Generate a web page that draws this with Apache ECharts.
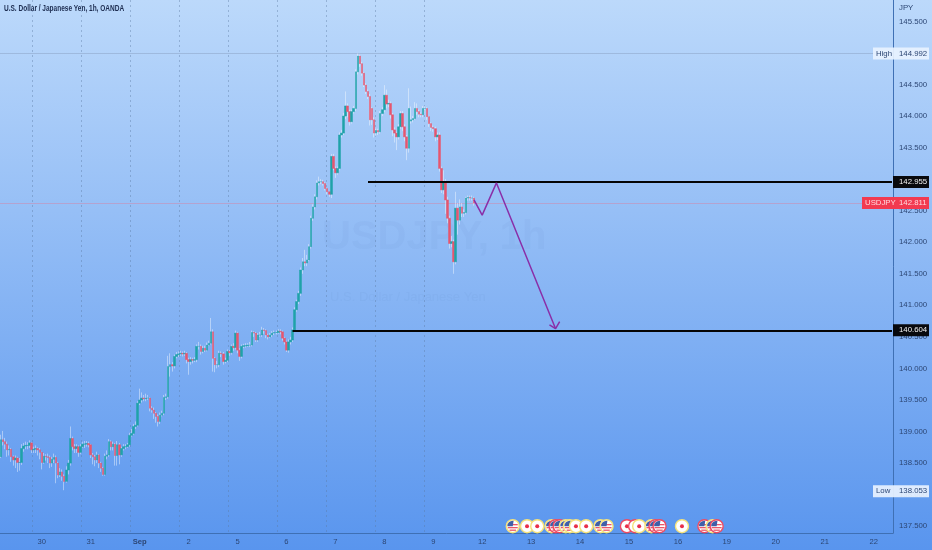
<!DOCTYPE html>
<html><head><meta charset="utf-8">
<style>html,body{margin:0;padding:0;background:#8ab6f5}#c{width:932px;height:550px}</style>
<script src="https://cdn.jsdelivr.net/npm/echarts@6/dist/echarts.min.js"></script>
</head><body><div id="c"></div>
<script>
const opens=[138.60,138.87,138.84,138.80,138.71,138.72,138.60,138.55,138.58,138.51,
138.51,138.73,138.77,138.78,138.78,138.82,138.71,138.72,138.73,138.71,
138.67,138.51,138.61,138.60,138.59,138.50,138.56,138.59,138.50,138.31,
138.36,138.29,138.21,138.39,138.50,138.89,138.76,138.73,138.76,138.67,
138.76,138.80,138.80,138.81,138.79,138.63,138.60,138.55,138.63,138.50,
138.42,138.32,138.61,138.63,138.84,138.76,138.80,138.62,138.79,138.63,
138.73,138.76,138.76,138.79,138.94,138.97,139.08,139.10,139.45,139.50,
139.53,139.52,139.53,139.53,139.37,139.34,139.29,139.24,139.16,139.26,
139.29,139.54,139.55,140.03,140.06,140.04,140.19,140.22,140.23,140.24,
140.23,140.24,140.14,140.11,140.14,140.13,140.14,140.35,140.35,140.27,
140.32,140.29,140.37,140.40,140.58,140.16,140.06,140.06,140.24,140.23,
140.11,140.13,140.27,140.25,140.35,140.33,140.56,140.29,140.19,140.35,
140.36,140.36,140.37,140.37,140.57,140.56,140.45,140.53,140.53,140.61,
140.60,140.53,140.50,140.53,140.56,140.57,140.57,140.59,140.58,140.48,
140.42,140.29,140.42,140.45,140.61,140.93,141.06,141.19,141.56,141.69,
141.67,141.72,141.93,142.38,142.56,142.72,142.94,142.96,142.96,142.93,
142.85,142.80,142.76,143.36,143.17,143.10,143.17,143.70,143.73,144.00,
144.16,144.07,143.91,144.07,144.12,144.70,144.95,144.83,144.68,144.49,
144.39,144.31,144.12,143.94,143.73,143.77,143.75,144.04,144.10,144.33,
144.19,144.20,144.02,143.78,143.73,143.67,143.83,144.04,143.83,143.67,
143.49,143.92,143.94,143.96,144.12,144.07,144.03,144.02,144.12,144.12,
143.99,143.88,143.82,143.80,143.67,143.70,143.17,142.83,142.96,142.67,
142.38,141.98,142.01,141.69,142.54,142.35,142.56,142.46,142.47,142.70,
142.71,142.70,142.70];
const closes=[138.87,138.84,138.80,138.71,138.72,138.60,138.55,138.58,138.51,138.51,
138.73,138.77,138.78,138.78,138.82,138.71,138.72,138.73,138.71,138.67,
138.51,138.61,138.60,138.59,138.50,138.56,138.59,138.50,138.31,138.36,
138.29,138.21,138.39,138.50,138.89,138.76,138.73,138.76,138.67,138.76,
138.80,138.80,138.81,138.79,138.63,138.60,138.55,138.63,138.50,138.42,
138.32,138.61,138.63,138.84,138.76,138.80,138.62,138.79,138.63,138.73,
138.76,138.76,138.79,138.94,138.97,139.08,139.10,139.45,139.50,139.53,
139.52,139.53,139.53,139.37,139.34,139.29,139.24,139.16,139.26,139.29,
139.54,139.55,140.03,140.06,140.04,140.19,140.22,140.23,140.24,140.23,
140.24,140.14,140.11,140.14,140.13,140.14,140.35,140.35,140.27,140.32,
140.29,140.37,140.40,140.58,140.16,140.06,140.06,140.24,140.23,140.11,
140.13,140.27,140.25,140.35,140.33,140.56,140.29,140.19,140.35,140.36,
140.36,140.37,140.37,140.57,140.56,140.45,140.53,140.53,140.61,140.60,
140.53,140.50,140.53,140.56,140.57,140.57,140.59,140.58,140.48,140.42,
140.29,140.42,140.45,140.61,140.93,141.06,141.19,141.56,141.69,141.67,
141.72,141.93,142.38,142.56,142.72,142.94,142.96,142.96,142.93,142.85,
142.80,142.76,143.36,143.17,143.10,143.17,143.70,143.73,144.00,144.16,
144.07,143.91,144.07,144.12,144.70,144.95,144.83,144.68,144.49,144.39,
144.31,143.94,143.94,143.73,143.77,143.75,144.04,144.10,144.33,144.19,
144.20,144.02,143.78,143.73,143.67,143.83,144.04,143.83,143.67,143.49,
144.12,143.94,143.96,144.12,144.07,144.03,144.02,144.12,144.12,143.99,
143.88,143.82,143.80,143.67,143.70,143.17,142.83,142.96,142.67,142.38,
141.98,142.01,141.69,142.54,142.35,142.56,142.46,142.47,142.70,142.71,
142.70,142.70,142.62];
const highs=[138.95,139.01,138.90,138.84,138.78,138.74,138.62,138.62,138.60,138.58,
138.80,138.82,138.84,138.83,138.86,138.83,138.76,138.78,138.75,138.74,
138.68,138.66,138.64,138.65,138.62,138.60,138.65,138.62,138.52,138.42,
138.40,138.32,138.45,138.55,139.08,138.92,138.80,138.80,138.78,138.80,
138.84,138.85,138.85,138.84,138.80,138.66,138.63,138.68,138.64,138.52,
138.44,138.65,138.70,138.88,138.86,138.84,138.82,138.85,138.82,138.76,
138.80,138.80,138.82,138.98,139.04,139.12,139.16,139.48,139.68,139.62,
139.58,139.60,139.58,139.54,139.40,139.38,139.31,139.27,139.30,139.33,
139.58,139.60,140.20,140.24,140.10,140.22,140.26,140.27,140.28,140.27,
140.28,140.26,140.17,140.18,140.17,140.18,140.38,140.42,140.38,140.36,
140.36,140.41,140.44,140.80,140.62,140.18,140.12,140.28,140.27,140.26,
140.17,140.30,140.29,140.38,140.40,140.60,140.58,140.32,140.38,140.39,
140.40,140.40,140.42,140.60,140.59,140.58,140.56,140.58,140.66,140.64,
140.62,140.55,140.56,140.59,140.60,140.60,140.62,140.62,140.60,140.50,
140.44,140.46,140.50,140.65,140.97,141.09,141.23,141.60,141.75,141.88,
141.80,141.97,142.42,142.60,142.76,142.98,143.04,143.00,142.99,142.95,
142.86,142.80,143.40,143.40,143.20,143.20,143.74,143.78,144.05,144.39,
144.20,144.10,144.10,144.16,144.74,144.99,144.97,144.86,144.70,144.52,
144.42,144.35,144.14,143.98,143.80,143.80,144.08,144.14,144.49,144.42,
144.26,144.23,144.05,143.82,143.75,143.87,144.08,144.08,143.87,143.70,
144.44,144.15,144.00,144.22,144.20,144.10,144.06,144.16,144.16,144.14,
144.00,143.90,143.85,143.83,143.74,143.74,143.20,143.14,143.00,142.72,
142.42,142.10,142.04,142.80,142.62,142.68,142.62,142.52,142.72,142.74,
142.74,142.74,142.72];
const lows=[138.58,138.78,138.72,138.60,138.62,138.52,138.46,138.42,138.36,138.38,
138.47,138.68,138.72,138.72,138.74,138.66,138.66,138.66,138.62,138.56,
138.40,138.49,138.54,138.50,138.42,138.44,138.50,138.18,138.26,138.28,
138.22,138.07,138.19,138.32,138.46,138.70,138.66,138.66,138.60,138.64,
138.74,138.74,138.76,138.75,138.58,138.48,138.45,138.50,138.42,138.36,
138.30,138.30,138.56,138.60,138.70,138.70,138.46,138.46,138.48,138.60,
138.70,138.72,138.74,138.76,138.92,138.95,139.04,139.08,139.42,139.46,
139.48,139.48,139.50,139.32,139.30,139.20,139.14,139.08,139.12,139.24,
139.26,139.50,139.52,139.87,139.95,140.00,140.16,140.18,140.20,140.19,
140.20,140.08,139.90,140.06,140.08,140.10,140.10,140.30,140.22,140.24,
140.26,140.27,140.36,140.38,139.95,139.94,140.00,140.02,140.18,140.06,
140.08,140.10,140.20,140.22,140.28,140.30,140.24,140.12,140.16,140.32,
140.33,140.34,140.34,140.35,140.50,140.42,140.42,140.50,140.50,140.55,
140.48,140.46,140.48,140.50,140.53,140.54,140.55,140.54,140.44,140.38,
140.26,140.25,140.38,140.42,140.58,140.90,141.02,141.15,141.50,141.62,
141.62,141.70,141.90,142.34,142.52,142.68,142.90,142.92,142.90,142.82,
142.76,142.72,142.70,143.14,143.02,143.07,143.14,143.66,143.70,143.95,
143.98,143.85,143.88,144.04,144.08,144.66,144.78,144.64,144.46,144.35,
144.27,143.85,143.86,143.66,143.68,143.70,143.72,144.00,144.06,144.12,
144.14,143.96,143.68,143.58,143.46,143.63,143.80,143.76,143.60,143.30,
143.42,143.88,143.90,143.94,144.02,143.98,143.98,143.98,144.06,143.94,
143.83,143.76,143.75,143.60,143.62,143.12,142.78,142.76,142.45,142.30,
141.90,141.92,141.50,141.65,142.12,142.28,142.40,142.40,142.44,142.66,
142.66,142.66,142.58];
const dayLabels=['30','31','Sep','2','5','6','7','8','9','12','13','14','15','16','19','20','21','22'];
const priceTicks=[137.5,138,138.5,139,139.5,140,140.5,141,141.5,142,142.5,143,143.5,144,144.5,145,145.5];
const resistance=142.955, target=140.604, highValue=144.992, lowValue=138.053;
const lastShownLevel=142.62, lastPriceText='142.811';
const plannedIdx=[232,236,243,272], plannedVal=[142.67,142.43,142.94,140.63];
const arrowIdx=[269,272,274], arrowVal=[140.69,140.63,140.74];
const eventIdx=[251,258,263,270,272,274,277,279,282,287,294,297,307,311,313,319,321,323,334,345,349,351];
const eventKind=['U','J','J','U','u','u','U','U','J','J','U','U','j','j','J','U','u','u','J','u','U','u'];

const PER_DAY=24, LEAD=20, TOTAL=438;
const categories=[];
for(let i=0;i<LEAD;i++)categories.push('');
dayLabels.forEach(d=>{categories.push(d);for(let h=1;h<PER_DAY;h++)categories.push('');});
categories.length=TOTAL;
const SESSION_OFFSET=4;
const wickData=opens.map((o,i)=>[o,closes[i],lows[i],highs[i]]);
const bodyData=opens.map((o,i)=>[o,closes[i],Math.min(o,closes[i]),Math.max(o,closes[i])]);

const TEAL='#1fa2a8',RED='#e6566e',LBL='#2c4674',FONT='"Liberation Sans",Arial,sans-serif';
const chart=echarts.init(document.getElementById('c'),null,{renderer:'canvas'});
function renderEvent(params,api){
  const p=api.coord([api.value(0),api.value(1)]),x=p[0],y=p[1];
  const k=eventKind[params.dataIndex],us=k==='U'||k==='u',ring=(k==='u'||k==='j')?'#ee4a62':'#f6e27a';
  const ch=[{type:'circle',shape:{cx:x,cy:y,r:6.5},style:{fill:'#ffffff',stroke:ring,lineWidth:1.4}}];
  if(us){
    [[-1.5,5],[1.5,5],[4,3.2]].forEach(s=>ch.push({type:'line',shape:{x1:x-s[1],y1:y+s[0],x2:x+s[1],y2:y+s[0]},style:{stroke:'#e8485c',lineWidth:1.2}}));
    ch.push({type:'sector',shape:{cx:x,cy:y,r:5.5,r0:0,startAngle:Math.PI,endAngle:Math.PI*1.55},style:{fill:'#3f5fa8'}});
  }else{
    ch.push({type:'circle',shape:{cx:x,cy:y,r:2},style:{fill:'#e8304a'}});
  }
  return {type:'group',children:ch};
}
const hair=(v,c)=>({yAxis:v,lineStyle:{color:c,width:1,type:'solid'},label:{show:false}});
const seg=(from,v)=>[{coord:[from,v],lineStyle:{color:'#050505',width:1.8,type:'solid'},label:{show:false}},{coord:[TOTAL-1,v]}];
const watermarks=[
  {type:'text',z:1,left:322,top:218,style:{text:'USDJPY, 1h',font:'bold 40px '+FONT,fill:'rgba(90,125,180,.06)'}},
  {type:'text',z:1,left:330,top:291,style:{text:'U.S. Dollar / Japanese Yen',font:'13px '+FONT,fill:'rgba(90,125,180,.07)'}},
  {type:'text',z:21,x:4,y:4,scaleX:.74,style:{text:'U.S. Dollar / Japanese Yen, 1h, OANDA',font:'bold 8.8px '+FONT,fill:'#1c2c50'}}
];
chart.setOption({
  animation:false,
  backgroundColor:{type:'linear',x:0,y:0,x2:0,y2:1,colorStops:[{offset:0,color:'#bcd9fb'},{offset:1,color:'#5995ee'}]},
  grid:{left:0,right:39,top:0,bottom:17,outerBoundsMode:'none',containLabel:false},
  tooltip:{show:false},
  xAxis:{type:'category',data:categories,boundaryGap:true,
    axisLine:{lineStyle:{color:'#3f70b4',width:1}},axisTick:{show:false},
    axisLabel:{interval:(i,v)=>v!=='',color:LBL,fontSize:7.6,fontFamily:FONT,margin:5,
      formatter:v=>v==='Sep'?'{b|Sep}':v,rich:{b:{fontWeight:'bold',fontSize:7.6,color:LBL,fontFamily:FONT}}},
    splitLine:{show:true,interval:i=>i>=LEAD-SESSION_OFFSET&&(i-(LEAD-SESSION_OFFSET))%PER_DAY===0&&i<=LEAD-SESSION_OFFSET+8*PER_DAY,
      lineStyle:{color:'rgba(90,120,160,.4)',width:1,type:[2,3]}}},
  yAxis:{type:'value',position:'right',min:137.392,max:145.839,scale:true,
    axisLine:{show:true,lineStyle:{color:'#3f70b4',width:1}},axisTick:{show:false},
    splitLine:{show:false},
    axisLabel:{customValues:priceTicks,formatter:v=>v.toFixed(3),color:LBL,fontSize:7.8,fontFamily:FONT,margin:6}},
  graphic:watermarks,
  series:[
    {type:'candlestick',name:'wick',data:wickData,barWidth:1,z:3,
     itemStyle:{color:'rgba(255,255,255,.42)',color0:'rgba(255,255,255,.42)',borderColor:'rgba(255,255,255,.42)',borderColor0:'rgba(255,255,255,.42)',borderWidth:1},
     markLine:{silent:true,symbol:'none',animation:false,z:2,data:[hair(highValue,'rgba(120,140,170,.35)'),hair(lastShownLevel,'rgba(235,110,135,.35)')]}},
    {type:'candlestick',name:'body',data:bodyData,barWidth:2,z:4,
     itemStyle:{color:TEAL,color0:RED,borderColor:TEAL,borderColor0:RED,borderWidth:.5},
     markLine:{silent:true,symbol:'none',animation:false,z:5,data:[seg(180,resistance),seg(143,target)]}},
    {type:'line',name:'plan',data:plannedIdx.map((x,i)=>[x,plannedVal[i]]),showSymbol:false,symbol:'none',z:6,lineStyle:{color:'#8a2fa8',width:1.5}},
    {type:'line',name:'arrow',data:arrowIdx.map((x,i)=>[x,arrowVal[i]]),showSymbol:false,symbol:'none',z:6,lineStyle:{color:'#8a2fa8',width:1.5}},
    {type:'custom',name:'events',data:eventIdx.map(x=>[x,137.5]),renderItem:renderEvent,clip:false,z:7,encode:{x:0,y:1}}
  ]
});
const yPx=v=>chart.convertToPixel({yAxisIndex:0},v);
function priceBox(v,x,w,fill,parts){
  const y=yPx(v);
  return {type:'group',z:20,children:[{type:'rect',z:20,shape:{x:x,y:y-6,width:w,height:12},style:{fill:fill}}].concat(parts.map(p=>({type:'text',z:21,x:p[0],y:y,style:{text:p[1],fill:p[2],font:'7.8px '+FONT,verticalAlign:'middle'}})))};
}
chart.setOption({graphic:watermarks.concat([
  {type:'text',z:21,x:899,y:4,style:{text:'JPY',fill:LBL,font:'7.8px '+FONT}},
  priceBox(highValue,873,56,'rgba(232,242,255,.92)',[[876,'High',LBL],[899,'144.992',LBL]]),
  priceBox(lowValue,873,56,'rgba(232,242,255,.92)',[[876,'Low',LBL],[899,'138.053',LBL]]),
  priceBox(resistance,893,36,'#08090d',[[899,'142.955','#f2f2f2']]),
  priceBox(target,893,36,'#08090d',[[899,'140.604','#f2f2f2']]),
  priceBox(lastShownLevel,862,67,'#f23a50',[[865,'USDJPY','#ffd9de'],[899,lastPriceText,'#ffd9de']])
])});
</script></body></html>
